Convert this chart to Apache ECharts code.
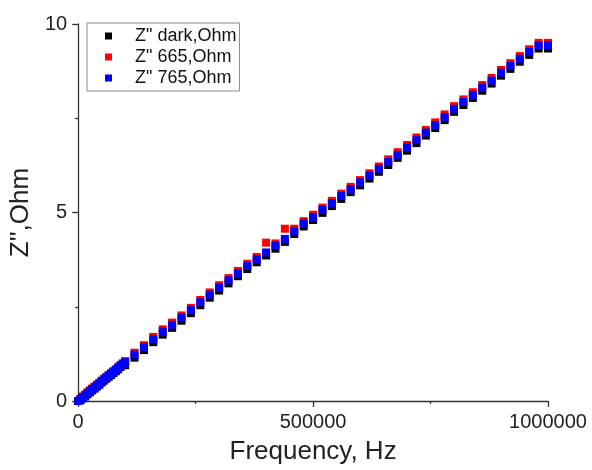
<!DOCTYPE html>
<html>
<head>
<meta charset="utf-8">
<script src="https://cdn.jsdelivr.net/npm/echarts@6/dist/echarts.min.js"></script>
<style>html,body{margin:0;padding:0;background:#fff;}#c{width:592px;height:470px;}</style>
</head>
<body>
<div id="c"></div>
<script>
var FONT = "'Liberation Sans', Arial, sans-serif";
var seriesNames = ['Z" dark,Ohm', 'Z" 665,Ohm', 'Z" 765,Ohm'];
var seriesColors = ['#000000', '#ff0000', '#0000ff'];
var xTicks = [0, 500000, 1000000];
var yTicks = [0, 5, 10];

var freq = [0,5000,10000,15000,20000,25000,30000,35000,40000,45000,50000,55000,60000,65000,70000,75000,80000,85000,90000,95000,
  100000,120000,140000,160000,180000,200000,220000,240000,260000,280000,300000,320000,340000,360000,380000,400000,420000,440000,460000,480000,
  500000,520000,540000,560000,580000,600000,620000,640000,660000,680000,700000,720000,740000,760000,780000,800000,820000,840000,860000,880000,
  900000,920000,940000,960000,980000,1000000];

var zDark = [0.00,0.02,0.07,0.12,0.18,0.23,0.28,0.33,0.38,0.43,0.49,0.54,0.59,0.64,0.69,0.74,0.79,0.84,0.90,0.95,
  0.95,1.15,1.35,1.56,1.76,1.94,2.13,2.33,2.54,2.74,2.93,3.12,3.31,3.50,3.68,3.86,4.04,4.22,4.43,4.63,
  4.80,4.99,5.17,5.36,5.54,5.72,5.90,6.08,6.26,6.45,6.64,6.84,7.04,7.24,7.45,7.67,7.85,8.04,8.23,8.42,
  8.63,8.81,9.00,9.18,9.35,9.35];

var z665 = [0.00,0.06,0.12,0.17,0.23,0.28,0.33,0.38,0.43,0.48,0.54,0.59,0.64,0.69,0.74,0.79,0.84,0.90,0.95,1.00,
  1.06,1.28,1.48,1.70,1.90,2.08,2.27,2.47,2.68,2.88,3.07,3.26,3.45,3.64,3.82,4.20,4.18,4.57,4.57,4.77,
  4.94,5.13,5.31,5.50,5.68,5.86,6.04,6.22,6.41,6.60,6.79,6.99,7.19,7.39,7.60,7.82,8.00,8.19,8.38,8.57,
  8.78,8.96,9.15,9.33,9.50,9.50];

var z765 = [0.00,0.05,0.10,0.15,0.21,0.26,0.31,0.36,0.41,0.46,0.52,0.57,0.62,0.67,0.72,0.77,0.82,0.87,0.93,0.98,
  1.03,1.23,1.43,1.64,1.84,2.02,2.21,2.41,2.62,2.82,3.01,3.20,3.39,3.58,3.76,3.94,4.12,4.30,4.51,4.71,
  4.88,5.07,5.25,5.44,5.62,5.80,5.98,6.16,6.34,6.53,6.72,6.92,7.12,7.32,7.53,7.75,7.93,8.12,8.31,8.50,
  8.71,8.89,9.08,9.26,9.43,9.43];

function pairs(xs, ys) { var out = []; for (var i = 0; i < xs.length; i++) out.push([xs[i], ys[i]]); return out; }
var allValues = [zDark, z665, z765];

var chart = echarts.init(document.getElementById('c'), null, {renderer: 'canvas'});
var axisLine = {show: true, lineStyle: {color: '#333', width: 1.3}};
chart.setOption({
  animation: false,
  backgroundColor: '#fff',
  textStyle: {fontFamily: FONT},
  grid: {left: 73, right: 44, top: 24, bottom: 64, containLabel: false},
  legend: {
    orient: 'vertical', left: 87, top: 23,
    padding: [4, 3, 4, 18], itemGap: 3,
    itemWidth: 7, itemHeight: 7, icon: 'rect',
    borderColor: '#888', borderWidth: 1, backgroundColor: '#fff',
    textStyle: {fontFamily: FONT, fontSize: 18, color: '#111', padding: [0, 0, 0, 18]},
    data: seriesNames
  },
  xAxis: {
    type: 'value', min: xTicks[0], max: xTicks[xTicks.length - 1], interval: xTicks[1] - xTicks[0],
    name: 'Frequency, Hz', nameLocation: 'middle', nameGap: 38,
    nameTextStyle: {fontFamily: FONT, fontSize: 26, color: '#222'},
    axisLine: axisLine,
    axisTick: {show: true, inside: false, length: 6, lineStyle: {color: '#333', width: 1.3}},
    minorTick: {show: true, splitNumber: 2, length: 3, lineStyle: {color: '#333', width: 1.3}},
    axisLabel: {fontFamily: FONT, fontSize: 20, color: '#222', margin: 11,
      formatter: function (v) { return String(v); }},
    splitLine: {show: false}
  },
  yAxis: {
    type: 'value', min: yTicks[0], max: yTicks[yTicks.length - 1], interval: yTicks[1] - yTicks[0],
    name: "Z'',Ohm", nameLocation: 'middle', nameGap: 34, nameRotate: 90,
    nameTextStyle: {fontFamily: FONT, fontSize: 26, color: '#222'},
    axisLine: axisLine,
    axisTick: {show: true, inside: false, length: 6, lineStyle: {color: '#333', width: 1.3}},
    minorTick: {show: true, splitNumber: 2, length: 3, lineStyle: {color: '#333', width: 1.3}},
    axisLabel: {fontFamily: FONT, fontSize: 20, color: '#222', margin: 11,
      formatter: function (v) { return String(v); }},
    splitLine: {show: false}
  },
  series: seriesNames.map(function (n, i) {
    return {
      name: n, type: 'scatter', symbol: 'rect', symbolSize: 8, clip: false,
      itemStyle: {color: seriesColors[i], opacity: 1},
      data: pairs(freq, allValues[i])
    };
  })
});
</script>
</body>
</html>
